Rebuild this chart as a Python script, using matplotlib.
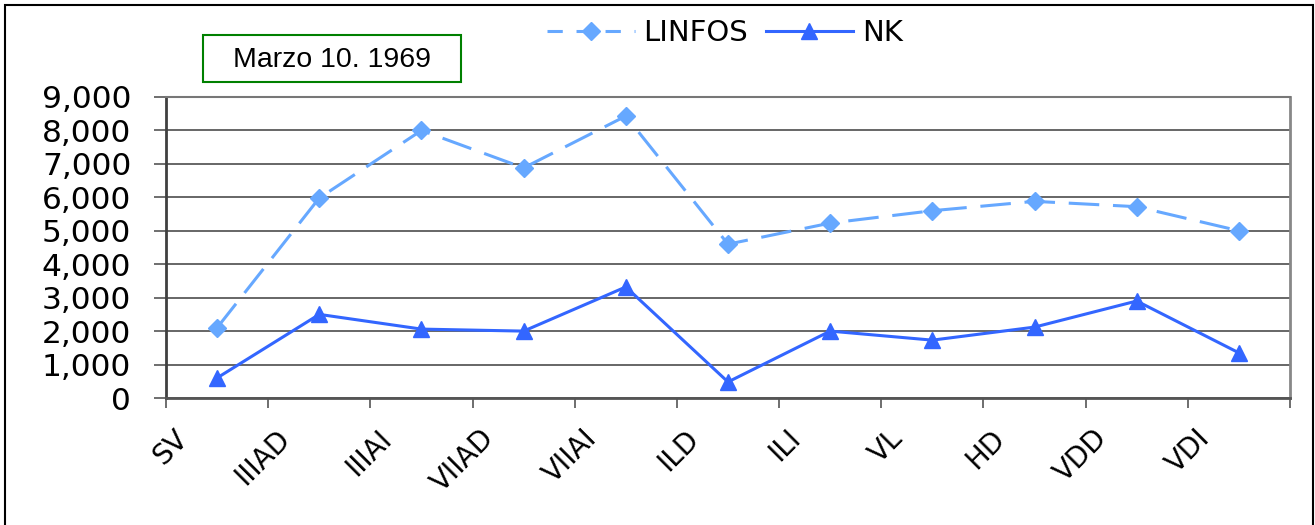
import numpy as np
import matplotlib.pyplot as plt
from matplotlib.patches import Rectangle
from matplotlib.ticker import FuncFormatter

categories = ['SV', 'IIIAD', 'IIIAI', 'VIIAD', 'VIIAI', 'ILD', 'ILI', 'VL', 'HD', 'VDD', 'VDI']
linfos = [2100, 5980, 8000, 6880, 8430, 4600, 5230, 5600, 5880, 5720, 5000]
nk = [600, 2500, 2060, 2000, 3320, 480, 2000, 1730, 2120, 2900, 1350]
y_ticks = list(range(0, 10000, 1000))
note = 'Marzo 10. 1969'

W, H = 1315, 525
fig = plt.figure(figsize=(W / 100, H / 100), dpi=100)
ax = fig.add_axes([166 / W, 1 - 398 / H, (1290 - 166) / W, (398 - 97) / H])

x = np.arange(len(categories))
ax.plot(x, linfos, color='#66a8ff', lw=2.2, dashes=(10, 4.5), marker='D', ms=9.5,
        mec='#66a8ff', label='LINFOS', zorder=3)
ax.plot(x, nk, color='#3366ff', lw=2.2, marker='^', ms=11.5,
        mec='#3366ff', label='NK', zorder=3)

ax.set_xlim(-0.5, len(categories) - 0.5)
ax.set_ylim(0, 9000)

# y axis
ax.set_yticks(y_ticks)
ax.yaxis.set_major_formatter(FuncFormatter(lambda v, p: f'{int(v):,}'))
ax.tick_params(axis='y', length=9, width=1.2, color='#555555', pad=16, labelsize=22.5)
ax.grid(axis='y', color='#4d4d4d', lw=1.2)
ax.set_axisbelow(True)

# x axis: tick marks at category boundaries, labels shifted left
ax.set_xticks(list(x - 0.5) + [len(categories) - 0.5], minor=True)
ax.tick_params(axis='x', which='minor', length=7, width=1.2, color='#555555')
ax.set_xticks(x - 0.33)
ax.set_xticklabels(categories)
ax.tick_params(axis='x', which='major', length=0, pad=26, labelsize=20)
for lbl in ax.get_xticklabels():
    lbl.set_rotation(45)
    lbl.set_ha('right')
    lbl.set_va('center')
    lbl.set_rotation_mode('anchor')

ax.spines['left'].set_color('#404040')
ax.spines['left'].set_linewidth(2)
ax.spines['bottom'].set_color('#555555')
ax.spines['bottom'].set_linewidth(2)
ax.spines['right'].set_color('#888888')
ax.spines['right'].set_linewidth(2)
ax.spines['top'].set_color('#777777')
ax.spines['top'].set_linewidth(1.5)

# legend at top
leg = fig.legend(loc='center', bbox_to_anchor=(725 / W, 1 - 33 / H), ncol=2,
                 frameon=False, fontsize=21, handlelength=3.0, handletextpad=0.3,
                 columnspacing=0.6)
leg.get_lines()[0].set_dashes((5, 4.5))

# note box
fig.patches.append(Rectangle((203 / W, 1 - 82 / H), (461 - 203) / W, (82 - 35) / H,
                             transform=fig.transFigure, fc='white', ec='#008000', lw=1.5))
fig.text(332 / W, 1 - 60 / H, note, fontsize=20.5, family='Liberation Sans',
         ha='center', va='center')

# outer border
fig.patches.append(Rectangle((5 / W, -0.05), 1308 / W, 1.05 - 5 / H,
                             transform=fig.transFigure, fill=False, ec='black', lw=1.5))

fig.savefig('out.png', dpi=100)
